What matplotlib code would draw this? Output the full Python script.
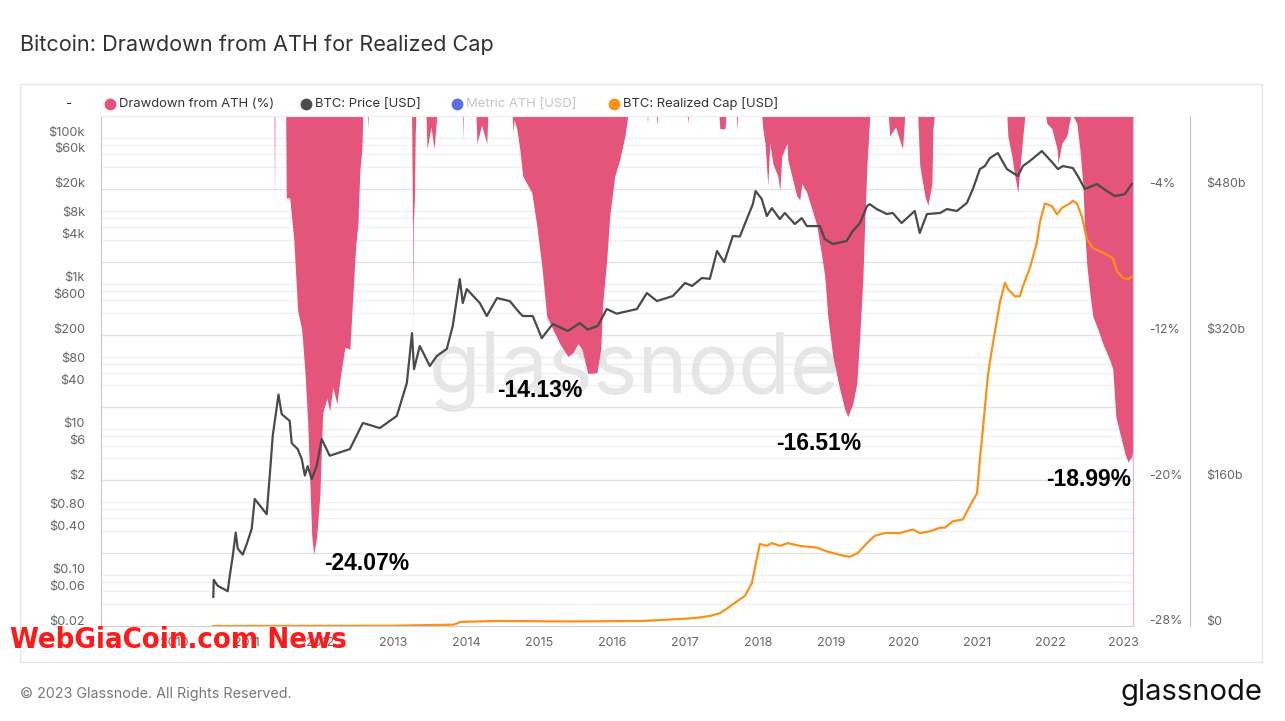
import math

import matplotlib

matplotlib.use("Agg")
import matplotlib.pyplot as plt
import matplotlib.transforms as mtransforms
import pandas as pd
from matplotlib.lines import Line2D
from matplotlib.patches import Rectangle
from matplotlib.ticker import NullLocator

# ---- data ------------------------------------------------------------------
price_dates = [
    "2010-07-17", "2010-07-19", "2010-08-08", "2010-09-27", "2010-10-07", "2010-10-22",
    "2010-11-06", "2010-11-16", "2010-12-11", "2011-01-01", "2011-01-25", "2011-02-09",
    "2011-04-10", "2011-04-30", "2011-05-10", "2011-06-08", "2011-06-24", "2011-08-03",
    "2011-08-13", "2011-09-12", "2011-10-02", "2011-10-18", "2011-11-01", "2011-11-21",
    "2011-12-16", "2012-01-10", "2012-02-19", "2012-05-30", "2012-08-03", "2012-10-27",
    "2013-01-20", "2013-03-11", "2013-04-06", "2013-04-16", "2013-05-15", "2013-07-04",
    "2013-08-08", "2013-09-27", "2013-10-27", "2013-12-01", "2013-12-16", "2014-01-05",
    "2014-03-11", "2014-04-15", "2014-06-05", "2014-08-08", "2014-09-27", "2014-10-12",
    "2014-12-01", "2015-01-15", "2015-03-11", "2015-05-26", "2015-07-24", "2015-09-02",
    "2015-10-22", "2015-12-06", "2016-01-25", "2016-05-05", "2016-06-24", "2016-08-13",
    "2016-11-01", "2017-01-01", "2017-02-05", "2017-03-26", "2017-05-05", "2017-06-10",
    "2017-07-16", "2017-08-28", "2017-10-02", "2017-11-06", "2017-12-06", "2017-12-20",
    "2018-01-20", "2018-02-14", "2018-03-11", "2018-04-20", "2018-05-15", "2018-07-04",
    "2018-08-08", "2018-09-02", "2018-11-06", "2018-12-01", "2019-01-10", "2019-03-20",
    "2019-04-20", "2019-05-26", "2019-06-30", "2019-07-14", "2019-08-18", "2019-10-07",
    "2019-11-06", "2019-12-20", "2020-02-24", "2020-03-20", "2020-04-25", "2020-06-30",
    "2020-08-03", "2020-09-22", "2020-11-11", "2020-12-11", "2021-01-15", "2021-02-09",
    "2021-03-06", "2021-04-15", "2021-05-30", "2021-07-24", "2021-08-18", "2021-09-22",
    "2021-11-21", "2022-01-15", "2022-02-09", "2022-03-06", "2022-04-25", "2022-05-20",
    "2022-06-24", "2022-08-23", "2022-10-12", "2022-11-21", "2023-01-10", "2023-02-14",
]
price_usd = [
    0.05, 0.086, 0.071, 0.060, 0.097, 0.18,
    0.38, 0.23, 0.19, 0.27, 0.43, 1.10,
    0.68, 3.4, 8.0, 29.6, 16.0, 12.9,
    6.4, 5.3, 3.9, 2.3, 3.1, 2.06,
    3.1, 7.3, 4.3, 5.3, 12.1, 10.3,
    15.1, 42.6, 206, 66, 137, 73,
    100, 125, 260, 1133, 532, 826,
    532, 353, 622, 566, 388, 353,
    353, 176, 274, 220, 283, 230,
    258, 440, 380, 440, 729, 566,
    663, 1000, 910, 1170, 1140, 2742,
    1930, 4400, 4330, 7520, 12000, 18200,
    14100, 8260, 10600, 7520, 9100, 6430,
    7760, 6030, 6030, 4000, 3420, 3760,
    5150, 6630, 11300, 12000, 10300, 8800,
    9100, 6630, 9700, 4840, 8800, 9100,
    10300, 9700, 12500, 19400, 36400, 40000,
    51500, 60300, 36400, 29200, 40000, 46900,
    64200, 44000, 36400, 40000, 37600, 29200,
    19400, 22700, 18200, 15500, 16500, 22700,
]

rcap_dates = [
    "2010-07-17", "2013-01-01", "2013-11-01", "2013-12-05", "2014-06-01", "2015-06-01",
    "2016-06-01", "2016-12-31", "2017-03-01", "2017-05-05", "2017-06-24", "2017-07-29",
    "2017-09-17", "2017-10-27", "2017-12-01", "2017-12-26", "2018-01-10", "2018-02-14",
    "2018-03-11", "2018-04-20", "2018-05-30", "2018-07-29", "2018-10-22", "2018-12-11",
    "2019-02-14", "2019-04-05", "2019-05-15", "2019-06-30", "2019-08-08", "2019-09-27",
    "2019-12-11", "2020-02-14", "2020-03-20", "2020-05-10", "2020-06-30", "2020-07-24",
    "2020-09-02", "2020-10-22", "2020-11-26", "2021-01-01", "2021-01-15", "2021-01-30",
    "2021-02-24", "2021-03-16", "2021-04-25", "2021-05-20", "2021-06-04", "2021-07-09",
    "2021-08-03", "2021-08-18", "2021-09-22", "2021-10-27", "2021-11-11", "2021-12-06",
    "2022-01-10", "2022-02-05", "2022-03-01", "2022-04-10", "2022-04-25", "2022-05-15",
    "2022-06-09", "2022-07-04", "2022-08-03", "2022-09-22", "2022-11-11", "2022-12-01",
    "2023-01-01", "2023-01-25", "2023-02-19",
]
rcap_busd = [
    0.0, 0.3, 1.5, 4.5, 5.5, 5.0,
    5.5, 8.0, 9.0, 11, 14, 19,
    27, 33, 47, 74, 90, 88,
    91, 88, 91, 88, 86, 82,
    78, 76, 80, 91, 99, 102,
    102, 106, 102, 104, 108, 108,
    115, 117, 132, 146, 183, 216,
    275, 304, 355, 377, 370, 362,
    362, 373, 393, 421, 443, 464,
    461, 452, 459, 464, 467, 464,
    450, 425, 415, 410, 404, 390,
    382, 381, 384,
]

dd_dates = [
    "2010-07-17", "2011-05-17", "2011-05-19", "2011-05-21",
    "2011-07-14", "2011-07-17", "2011-08-03", "2011-08-13", "2011-08-23", "2011-09-12",
    "2011-10-02", "2011-10-18", "2011-11-01", "2011-11-11", "2011-11-21", "2011-12-01",
    "2011-12-16", "2012-01-01", "2012-01-15", "2012-02-05", "2012-02-19", "2012-03-06",
    "2012-03-26", "2012-04-10", "2012-05-05", "2012-05-30", "2012-06-09", "2012-06-29",
    "2012-07-09", "2012-07-19", "2012-07-29", "2012-08-03",
    "2012-08-26", "2012-08-28", "2012-08-30",
    "2013-04-04", "2013-04-08", "2013-04-10", "2013-04-12", "2013-04-18", "2013-04-22",
    "2013-04-25",
    "2013-06-15", "2013-06-20", "2013-07-10", "2013-07-25", "2013-08-08",
    "2013-12-14", "2013-12-16", "2013-12-18",
    "2014-02-20", "2014-02-25", "2014-03-20", "2014-04-15", "2014-04-20",
    "2014-08-20", "2014-08-25", "2014-08-30", "2014-09-12", "2014-09-27", "2014-10-12",
    "2014-11-06", "2014-11-26", "2014-12-21", "2015-01-15", "2015-02-09", "2015-03-11",
    "2015-04-15", "2015-05-26", "2015-06-20", "2015-07-15", "2015-08-04", "2015-09-02",
    "2015-10-18", "2015-11-06", "2015-11-16", "2015-12-06", "2015-12-21", "2016-01-15",
    "2016-02-09", "2016-03-06", "2016-03-20",
    "2016-06-25", "2016-06-27", "2016-06-29",
    "2016-08-10", "2016-08-13", "2016-08-16",
    "2017-01-12", "2017-01-15", "2017-01-18",
    "2017-06-20", "2017-06-24", "2017-07-20", "2017-07-24",
    "2017-09-14", "2017-09-17", "2017-09-20",
    "2018-01-20", "2018-01-25", "2018-02-05", "2018-02-19", "2018-03-01", "2018-03-16",
    "2018-04-10", "2018-04-20", "2018-04-30", "2018-05-26", "2018-05-30", "2018-06-19",
    "2018-07-14", "2018-07-29", "2018-08-08", "2018-09-02", "2018-09-27", "2018-10-22",
    "2018-11-16", "2018-12-01", "2018-12-16", "2019-01-10", "2019-02-14", "2019-03-11",
    "2019-03-26", "2019-04-20", "2019-05-10", "2019-05-26", "2019-06-10", "2019-06-20",
    "2019-06-30", "2019-07-14",
    "2019-10-15", "2019-10-22", "2019-11-20", "2019-12-25", "2020-01-05",
    "2020-03-10", "2020-03-20", "2020-04-15", "2020-04-30", "2020-05-20", "2020-05-25",
    "2020-06-01",
    "2021-05-30", "2021-06-04", "2021-06-24", "2021-07-09", "2021-07-24", "2021-08-03",
    "2021-08-18", "2021-08-28",
    "2021-12-10", "2021-12-16", "2022-01-10", "2022-02-05", "2022-02-10", "2022-03-01",
    "2022-03-26", "2022-04-05", "2022-04-15",
    "2022-04-25", "2022-05-15", "2022-05-30", "2022-06-14", "2022-06-24", "2022-07-04",
    "2022-07-19", "2022-08-03", "2022-08-28", "2022-09-22", "2022-10-27", "2022-11-11",
    "2022-11-26", "2022-12-16", "2023-01-10", "2023-01-25", "2023-02-14", "2023-02-20",
]
dd_pct = [
    0, 0, -4.7, 0,
    0, -4.5, -4.5, -5.6, -6.7, -10.7,
    -11.7, -14.0, -16.8, -19.8, -23.0, -24.07,
    -23.1, -20.8, -16.3, -15.5, -16.2, -14.9,
    -15.8, -14.5, -12.7, -12.8, -10.8, -7.0,
    -6.0, -3.0, -1.8, 0,
    0, -0.7, 0,
    0, -5.5, -11.7, -6.0, -4.5, -1.0,
    0,
    0, -1.8, -0.6, -1.8, 0,
    0, -1.3, 0,
    0, -1.5, -0.5, -1.5, 0,
    0, -0.9, -0.2, -0.7, -1.8, -3.3,
    -3.8, -4.2, -6.0, -8.2, -11.0, -11.7,
    -12.5, -13.2, -13.0, -12.5, -12.8, -14.13,
    -14.1, -12.8, -10.3, -7.9, -5.5, -3.3,
    -2.4, -1.1, 0,
    0, -0.4, 0,
    0, -0.5, 0,
    0, -0.4, 0,
    0, -0.7, -0.7, 0,
    0, -0.8, 0,
    0, -0.7, -1.5, -3.8, -1.5, -2.6,
    -3.3, -4.1, -2.2, -1.5, -2.4, -3.3,
    -4.4, -4.6, -3.7, -4.2, -5.1, -6.0,
    -7.7, -8.8, -11.0, -13.2, -15.0, -16.1,
    -16.51, -15.8, -14.7, -11.9, -8.8, -5.5,
    -2.7, 0,
    0, -1.1, -0.6, -1.8, 0,
    0, -2.7, -4.4, -4.9, -3.7, -0.7,
    0,
    0, -1.1, -2.2, -3.3, -4.2, -2.9,
    -1.1, 0,
    0, -0.4, -0.7, -1.8, -2.6, -1.5,
    -1.1, -0.5, 0,
    0, -0.4, -1.8, -3.7, -6.4, -8.2,
    -9.7, -11.0, -11.7, -12.5, -13.4, -13.9,
    -16.5, -17.4, -18.5, -18.99, -18.7, -18.3,
]

callout_text = ["-24.07%", "-14.13%", "-16.51%", "-18.99%"]
callout_dates = ["2012-01-20", "2014-06-05", "2018-03-31", "2021-12-12"]
callout_pct = [-24.55, -15.05, -18.0, -19.93]

year_ticks = list(range(2010, 2024))
price_ticks = [0.02, 0.06, 0.1, 0.4, 0.8, 2, 6, 10, 40, 80, 200, 600, 1000, 4000,
               8000, 20000, 60000, 100000]
price_tick_labels = ["$0.02", "$0.06", "$0.10", "$0.40", "$0.80", "$2", "$6", "$10",
                     "$40", "$80", "$200", "$600", "$1k", "$4k", "$8k", "$20k", "$60k",
                     "$100k"]
dd_ticks = [-4, -12, -20, -28]
dd_tick_labels = ["-4%", "-12%", "-20%", "-28%"]
rcap_ticks = [0, 160, 320, 480]
rcap_tick_labels = ["$0", "$160b", "$320b", "$480b"]

legend_labels = ["Drawdown from ATH (%)", "BTC: Price [USD]", "Metric ATH [USD]",
                 "BTC: Realized Cap [USD]"]
legend_colors = ["#e5547a", "#4d4d4d", "#5b6fe0", "#f7931a"]

# ---- styling -----------------------------------------------------------------
PINK = "#e5547a"
DARK = "#4a4a4a"
ORANGE = "#f7931a"
TICK = "#666666"

plt.rcParams["font.family"] = ["Inter", "DejaVu Sans"]

W, H = 1285, 721
fig = plt.figure(figsize=(W / 100, H / 100), dpi=100)
fig.patch.set_facecolor("white")


def fx(px):
    return px / W


def fy(py):
    return 1 - py / H


# chart frame
fig.add_artist(Rectangle((fx(20), fy(662)), fx(1262) - fx(20), fy(84) - fy(662),
                         transform=fig.transFigure, fill=False, edgecolor="#e6e6e6",
                         linewidth=1.0))

ax_dd = fig.add_axes([fx(101), fy(626), fx(1133) - fx(101), fy(116) - fy(626)])
ax_p = ax_dd.twinx()
ax_rc = ax_dd.twinx()

dd_x = pd.to_datetime(dd_dates)
price_x = pd.to_datetime(price_dates)
rcap_x = pd.to_datetime(rcap_dates)

# grid: darker every 4 %, lighter log-style minors between
for v in range(-28, 1, 4):
    if -28 < v < 0:
        ax_dd.axhline(v, color="#e3e3e3", lw=1.0, zorder=0)
    for m in (2, 3, 4, 5):
        g = v + 4 * math.log10(m)
        if g < 0:
            ax_dd.axhline(g, color="#f1f1f1", lw=1.0, zorder=0)

ax_dd.text(0.517, 0.50, "glassnode", transform=ax_dd.transAxes, ha="center",
           va="center", fontsize=61, color="#e6e6e6", zorder=1)

ax_dd.fill_between(dd_x, dd_pct, 0, color=PINK, linewidth=0, zorder=2)
ax_dd.set_ylim(-28, 0)
ax_dd.set_xlim(pd.Timestamp("2009-01-01"), pd.Timestamp("2023-02-20"))

ax_p.plot(price_x, price_usd, color=DARK, lw=1.6, zorder=3)
ax_p.set_yscale("log")
ax_p.set_ylim(0.02, 194000)
ax_p.yaxis.set_minor_locator(NullLocator())

ax_rc.plot(rcap_x, rcap_busd, color=ORANGE, lw=1.6, zorder=3)
ax_rc.set_ylim(0, 560)

for t, d, p in zip(callout_text, callout_dates, callout_pct):
    ax_rc.text(pd.Timestamp(d), 560 * (28 + p) / 28, t, ha="left", va="center",
               fontsize=16.5, fontweight="bold", color="black",
               family=["Liberation Sans", "DejaVu Sans"], zorder=5)

# axes cosmetics
ax_dd.yaxis.tick_right()
ax_dd.set_yticks(dd_ticks, dd_tick_labels)
ax_dd.set_xticks(pd.to_datetime([f"{y}-01-01" for y in year_ticks]),
                 [str(y) for y in year_ticks])
ax_dd.tick_params(axis="both", length=0, colors=TICK, labelsize=9)
ax_dd.tick_params(axis="y", pad=11.5)
ax_dd.tick_params(axis="x", pad=8)

ax_p.yaxis.tick_left()
ax_p.set_yticks(price_ticks, price_tick_labels)
ax_p.tick_params(axis="y", length=0, colors=TICK, labelsize=9.2, pad=11.5)

ax_rc.spines["right"].set_position(("axes", (1190 - 101) / (1133 - 101)))
ax_rc.set_yticks([v for v in rcap_ticks], rcap_tick_labels)
ax_rc.tick_params(axis="y", length=0, colors=TICK, labelsize=9, pad=11.5)

for a in (ax_p, ax_rc):
    for s in a.spines.values():
        s.set_visible(False)
ax_rc.spines["right"].set_visible(True)
ax_rc.spines["right"].set_color("#b4c0f4")
ax_dd.spines["left"].set_color("#c8c8c8")
ax_dd.spines["bottom"].set_color("#d0d0d0")
ax_dd.spines["top"].set_color("#ececec")
ax_dd.spines["right"].set_color("#f2b3c4")

# glassnode puts y labels a little above their grid lines
lift = mtransforms.ScaledTranslation(0, 6 / 100, fig.dpi_scale_trans)
for a in (ax_dd, ax_p, ax_rc):
    for lab in a.get_yticklabels():
        lab.set_transform(lab.get_transform() + lift)

# legend row
fig.text(fx(68), fy(104), "-", ha="center", va="center", fontsize=9.5, color="#333333")
dot_x = [110, 306, 457, 614]
for px, lab, col in zip(dot_x, legend_labels, legend_colors):
    fig.add_artist(Line2D([fx(px)], [fy(104)], marker="o", markersize=7.5, color=col,
                          transform=fig.transFigure))
    fig.text(fx(px + 9), fy(104), lab, ha="left", va="center", fontsize=9.4,
             color="#c4c4c4" if lab.startswith("Metric") else "#333333")

fig.text(fx(20), fy(45), "Bitcoin: Drawdown from ATH for Realized Cap", ha="left",
         va="center", fontsize=15.6, color="#333333")
fig.text(fx(20), fy(694), "© 2023 Glassnode. All Rights Reserved.", ha="left",
         va="center", fontsize=10.3, color="#777777")
fig.text(fx(1262), fy(693), "glassnode", ha="right", va="center", fontsize=21,
         color="#111111")
fig.text(fx(10), fy(640), "WebGiaCoin.com News", ha="left", va="center", fontsize=21,
         fontweight="bold", fontstretch="condensed", color="#ff1a1a",
         family=["DejaVu Sans"], zorder=10)

fig.savefig("out.png", dpi=100)
